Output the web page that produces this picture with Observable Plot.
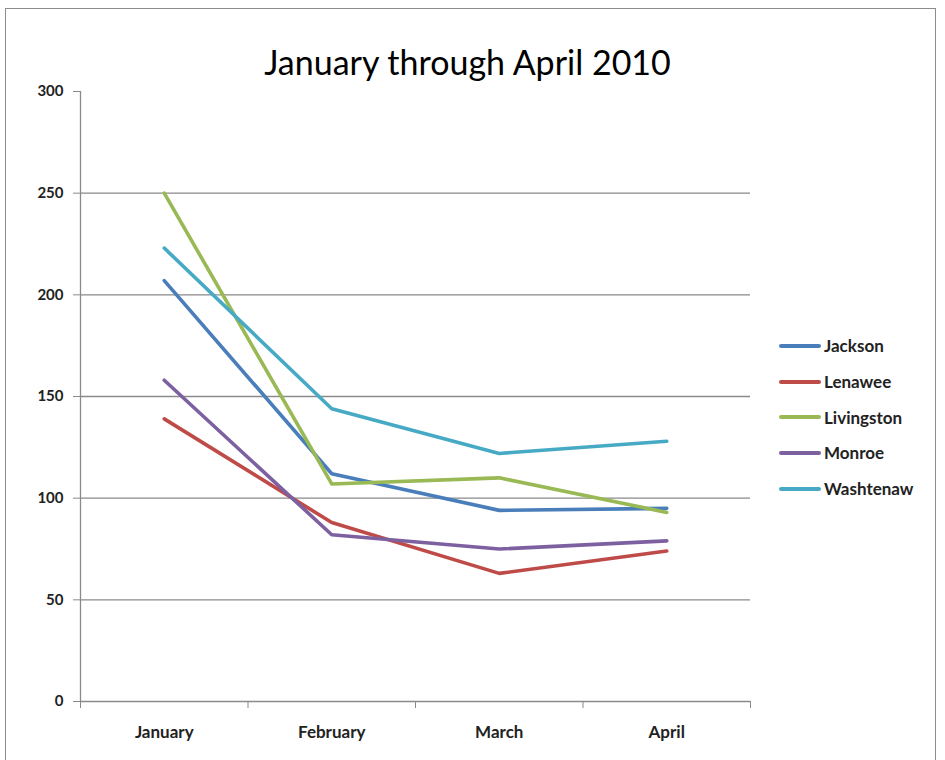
<!DOCTYPE html>
<html>
<head>
<meta charset="utf-8">
<script src="https://cdn.jsdelivr.net/npm/d3@7"></script>
<script src="https://cdn.jsdelivr.net/npm/@observablehq/plot@0.6"></script>
<style>
  body { margin: 0; background: #fff; }
  #wrap { position: relative; width: 945px; height: 760px; overflow: hidden; font-family: Lato, "Open Sans", sans-serif; }
  #border { position: absolute; left: 5px; top: 8px; width: 931px; height: 800px; border: 1px solid #8c8c8c; box-sizing: border-box; }
  #title { position: absolute; left: 0; width: 935px; top: 41px; text-align: center; font-size: 34px; color: #000; }
  #chart { position: absolute; left: 0; top: 0; }
  #legend { position: absolute; left: 779px; top: 328px; }
  .li { display: flex; align-items: center; height: 35.7px; font-size: 17px; font-weight: 700; color: #222; }
  .sw { width: 42px; height: 4px; border-radius: 2px; margin-right: 3px; }
</style>
</head>
<body>
<div id="wrap">
  <div id="border"></div>
  <div id="title">January through April 2010</div>
  <div id="chart"></div>
  <div id="legend"></div>
</div>
<script>
const months = ["January", "February", "March", "April"];
const seriesNames = ["Jackson", "Lenawee", "Livingston", "Monroe", "Washtenaw"];
const colors = ["#4a7ebb", "#be4b48", "#98b954", "#7d60a0", "#46aac5"];
const jackson = [207, 112, 94, 95];
const lenawee = [139, 88, 63, 74];
const livingston = [250, 107, 110, 93];
const monroe = [158, 82, 75, 79];
const washtenaw = [223, 144, 122, 128];
const yTicks = [0, 50, 100, 150, 200, 250, 300];
const gridTicks = [50, 100, 150, 200, 250];

const seriesValues = [jackson, lenawee, livingston, monroe, washtenaw];
const data = [];
seriesNames.forEach((s, i) => months.forEach((m, j) => data.push({series: s, month: m, idx: j, value: seriesValues[i][j]})));
const boundaries = d3.range(months.length + 1).map(i => i - 0.5);

const chart = Plot.plot({
  width: 945,
  height: 760,
  marginLeft: 80,
  marginRight: 195,
  marginTop: 91,
  marginBottom: 59,
  style: {fontFamily: "Lato, 'Open Sans', sans-serif", fontSize: "15px", fontWeight: 700, color: "#222", background: "transparent"},
  x: {type: "linear", domain: [-0.5, months.length - 0.5]},
  y: {domain: [0, 300]},
  color: {domain: seriesNames, range: colors},
  marks: [
    Plot.gridY(gridTicks, {stroke: "#8a8a8a", strokeOpacity: 1, strokeWidth: 1.3}),
    Plot.ruleX([-0.5], {y1: 0, y2: 300, stroke: "#8a8a8a", strokeWidth: 1.3}),
    Plot.ruleY([0], {stroke: "#8a8a8a", strokeWidth: 1.3}),
    Plot.axisY(yTicks, {tickSize: 7, tickPadding: 10, stroke: "#8a8a8a", label: null, fill: "#222", fontSize: 15}),
    Plot.axisX(boundaries, {tickSize: 7, tickFormat: () => "", stroke: "#8a8a8a", label: null}),
    Plot.axisX(d3.range(months.length), {tickSize: 0, tickPadding: 24, tickFormat: i => months[i], label: null, fill: "#222", fontSize: 17}),
    Plot.line(data, {x: "idx", y: "value", z: "series", stroke: "series", strokeWidth: 3.6, strokeLinejoin: "round", strokeLinecap: "round"})
  ]
});
document.getElementById("chart").appendChild(chart);

const legend = document.getElementById("legend");
seriesNames.forEach((s, i) => {
  const row = document.createElement("div");
  row.className = "li";
  const sw = document.createElement("div");
  sw.className = "sw";
  sw.style.background = colors[i];
  const t = document.createElement("span");
  t.textContent = s;
  row.appendChild(sw);
  row.appendChild(t);
  legend.appendChild(row);
});
</script>
</body>
</html>
